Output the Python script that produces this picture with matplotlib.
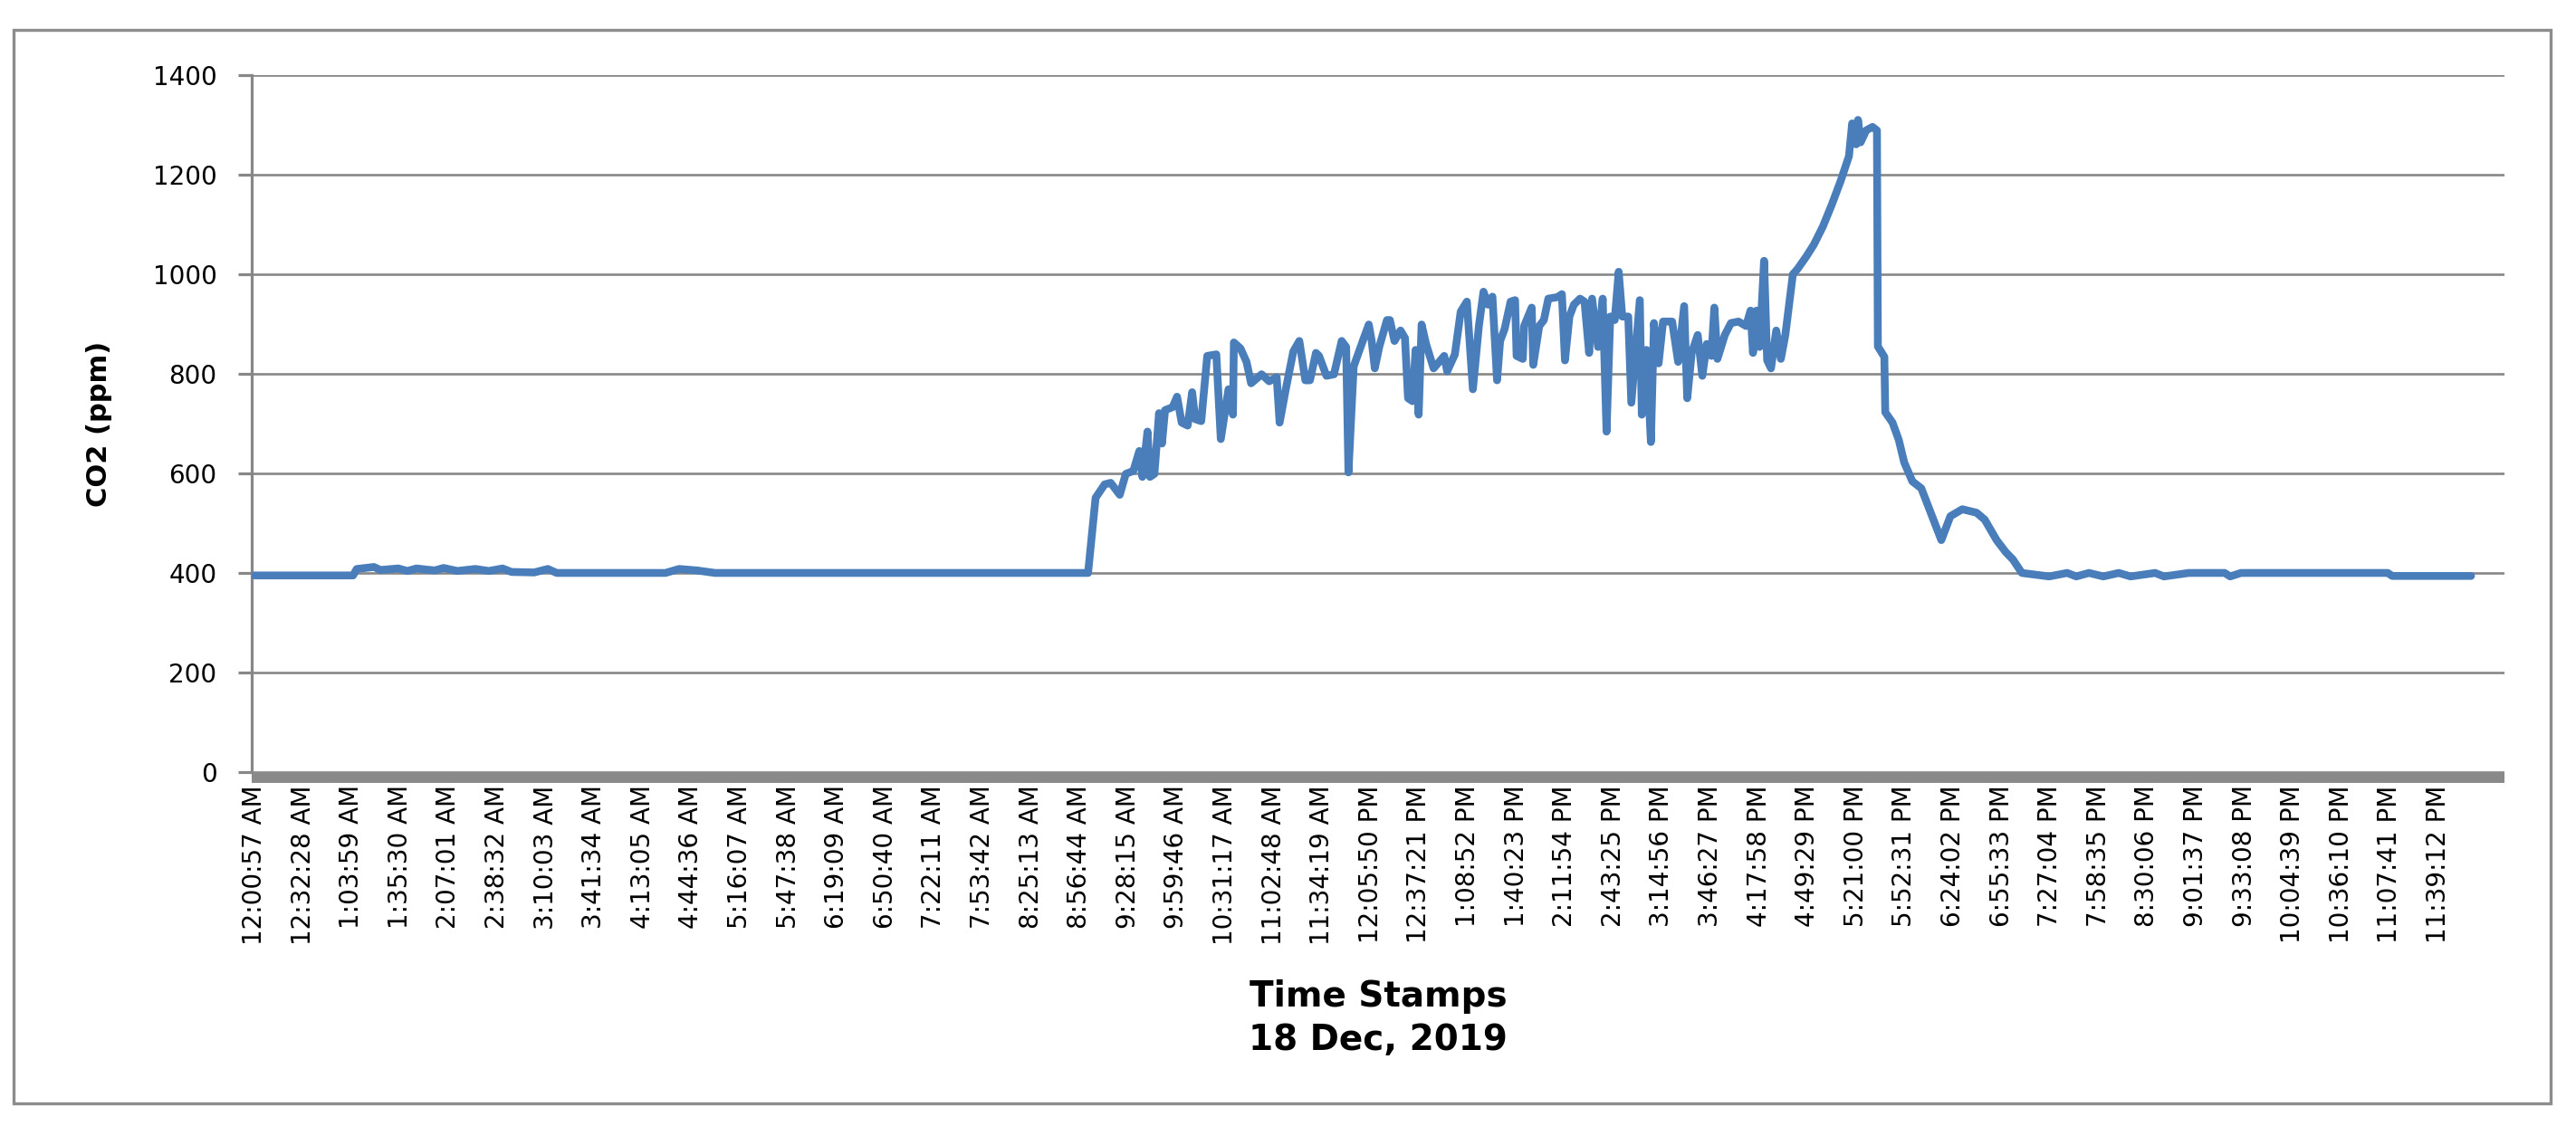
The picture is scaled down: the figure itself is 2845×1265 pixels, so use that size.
import matplotlib
matplotlib.use("Agg")
import matplotlib.pyplot as plt
from matplotlib.patches import Rectangle

# ---------------- data ----------------
time_labels = [
    "12:00:57 AM", "12:32:28 AM", "1:03:59 AM", "1:35:30 AM", "2:07:01 AM",
    "2:38:32 AM", "3:10:03 AM", "3:41:34 AM", "4:13:05 AM", "4:44:36 AM",
    "5:16:07 AM", "5:47:38 AM", "6:19:09 AM", "6:50:40 AM", "7:22:11 AM",
    "7:53:42 AM", "8:25:13 AM", "8:56:44 AM", "9:28:15 AM", "9:59:46 AM",
    "10:31:17 AM", "11:02:48 AM", "11:34:19 AM", "12:05:50 PM", "12:37:21 PM",
    "1:08:52 PM", "1:40:23 PM", "2:11:54 PM", "2:43:25 PM", "3:14:56 PM",
    "3:46:27 PM", "4:17:58 PM", "4:49:29 PM", "5:21:00 PM", "5:52:31 PM",
    "6:24:02 PM", "6:55:33 PM", "7:27:04 PM", "7:58:35 PM", "8:30:06 PM",
    "9:01:37 PM", "9:33:08 PM", "10:04:39 PM", "10:36:10 PM", "11:07:41 PM",
    "11:39:12 PM",
]

# minutes after midnight (18 Dec 2019)
minutes = [
    0.95, 65.0, 67.4, 78.6, 82.7, 94.4, 100.3, 106.2, 118.0, 123.8, 132.7,
    144.4, 153.2, 162.1, 167.9, 182.6, 191.5, 197.3, 267.9, 276.7, 288.5,
    300.2, 542.3,
    547.2, 553.1, 557.0, 562.9, 566.8, 571.7, 575.6, 577.6, 580.9, 582.5,
    585.4, 588.4, 590.3, 592.3, 597.2, 600.1, 603.1, 607.0, 609.9, 611.9,
    615.8, 619.7, 625.6, 628.5, 633.5, 636.4, 637.0, 641.3, 645.2, 648.2,
    655.0, 659.9, 664.8, 666.7, 670.7, 675.6, 679.5, 683.4, 686.4, 690.3,
    692.3, 697.1, 702.0, 707.0, 709.9, 711.4, 714.8, 720.7, 724.6, 726.5,
    728.5, 731.4, 736.4, 738.3, 741.3, 745.2, 748.1, 750.1, 753.0, 755.0,
    757.0, 758.9, 761.8, 766.7, 773.6, 775.5, 780.5, 784.3, 788.3, 792.2,
    796.1, 799.1, 802.0, 804.9,
    807.9, 809.9, 812.8, 816.7, 819.6, 820.6, 824.6, 825.5, 830.4, 831.4,
    835.3, 838.3, 841.2, 847.1, 850.0, 852.0, 854.9, 857.8, 861.8, 864.7,
    867.7, 869.6, 873.5, 876.5, 879.0, 881.4, 884.3, 886.9, 889.2, 893.1,
    895.1, 898.1, 900.6, 901.9, 904.9, 907.8, 909.8, 912.8, 915.7, 921.6,
    925.5, 929.4, 931.4, 934.3, 938.2, 941.2, 944.1, 947.1, 949.0, 951.0,
    955.8, 959.8, 964.7, 969.6, 972.5, 974.1, 976.4, 978.4, 981.3, 983.3,
    985.8, 989.2, 992.2, 995.1, 1000.0, 1002.9, 1008.8, 1013.7, 1019.5,
    1025.3, 1031.1, 1036.4, 1038.5, 1041.1, 1042.3, 1044.0, 1047.6, 1051.7,
    1054.6, 1055.2, 1059.4, 1060.0, 1064.7, 1068.8, 1072.3, 1077.6, 1083.4,
    1096.4, 1102.3, 1110.0, 1119.3, 1124.6, 1132.3, 1138.2, 1142.9, 1148.7,
    1166.4, 1178.1, 1184.0, 1192.3, 1201.6, 1211.6, 1219.3, 1235.2, 1241.0,
    1257.0, 1280.4, 1284.0, 1291.0, 1386.3, 1389.2, 1440.4,
]

co2_ppm = [
    395, 395, 408, 412, 406, 409, 404, 409, 405, 410, 404,
    408, 404, 409, 402, 401, 408, 400, 400, 408, 405,
    400, 400,
    551, 578, 581, 557, 599, 605, 645, 593, 684, 593,
    599, 721, 660, 727, 733, 754, 702, 696, 763, 709,
    705, 836, 839, 669, 769, 718, 863, 851, 824, 781,
    799, 785, 793, 702, 769, 845, 866, 787, 787, 842,
    836, 796, 799, 866, 854, 602, 815, 866, 899, 866,
    811, 854, 908, 908, 866, 887, 872, 751, 745, 848,
    718, 899, 860, 811, 836, 805, 839, 925, 945, 769,
    896, 965, 939, 955,
    787, 866, 890, 945, 948, 836, 830, 896, 933, 818,
    896, 908, 951, 954, 960, 827, 915, 939, 951, 945,
    842, 951, 854, 951, 684, 915, 908, 1005, 915, 915,
    742, 854, 948, 718, 848, 663, 902, 821, 905, 905,
    824, 936, 751, 842, 878, 796, 860, 836, 933, 830,
    878, 902, 905, 896, 927, 842, 927, 854, 1027, 827,
    811, 887, 830, 878, 1000, 1010, 1036, 1060, 1096,
    1140, 1188, 1237, 1303, 1261, 1310, 1265, 1289, 1296,
    1289, 855, 834, 723, 702, 667, 622, 584, 570,
    466, 514, 528, 521, 507, 466, 442, 427, 400,
    393, 400, 393, 400, 393, 400, 393, 400, 393,
    400, 400, 393, 400, 400, 394, 394,
]

y_ticks = [0, 200, 400, 600, 800, 1000, 1200, 1400]
y_label = "CO2 (ppm)"
x_label = "Time Stamps\n18 Dec, 2019"


def to_minutes(label):
    clock, ampm = label.split()
    h, m, s = (int(p) for p in clock.split(":"))
    h = h % 12 + (12 if ampm == "PM" else 0)
    return h * 60 + m + s / 60.0


tick_pos = [to_minutes(t) for t in time_labels]

# ---------------- figure ----------------
W, H, DPI = 2845, 1265, 100
fig = plt.figure(figsize=(W / DPI, H / DPI), dpi=DPI)
fig.patch.set_facecolor("white")

ax = fig.add_axes([278 / W, 1 - 853 / H, (2766 - 278) / W, (853 - 83) / H])

gray = "#878787"
ax.plot(minutes, co2_ppm, color="#4A7EBB", lw=6.2,
        solid_joinstyle="round", solid_capstyle="round", zorder=3)

ax.set_xlim(-0.8, 1462.1)
ax.set_ylim(0, 1400)

ax.set_yticks(y_ticks)
ax.set_yticklabels([str(v) for v in y_ticks])
ax.set_xticks(tick_pos)
ax.set_xticklabels(time_labels)

ax.yaxis.grid(True, color=gray, lw=1.9)
ax.set_axisbelow(True)

for side in ("top", "right"):
    ax.spines[side].set_visible(False)
ax.spines["left"].set_color(gray)
ax.spines["left"].set_linewidth(2.3)
ax.spines["bottom"].set_color("#898989")
ax.spines["bottom"].set_linewidth(8.6)
ax.spines["bottom"].set_position(("outward", 4.3))
ax.spines["bottom"].set_capstyle("butt")

ax.tick_params(axis="y", direction="out", length=10.8, width=2.3,
               color=gray, pad=17, labelsize=20, labelcolor="black")
ax.tick_params(axis="x", length=0, pad=6, labelsize=20, labelcolor="black",
               labelrotation=90)
for lbl in ax.get_xticklabels():
    lbl.set_rotation(90)
    lbl.set_ha("center")
    lbl.set_va("top")

ax.set_ylabel(y_label, fontsize=22, fontweight="bold", rotation=90,
              rotation_mode="default", ha="center", va="center")
ax.yaxis.set_label_coords((110 - 278) / (2766 - 278), 0.5)

ax.set_xlabel(x_label, fontsize=28, fontweight="bold", linespacing=1.3,
              ha="center", va="center")
ax.xaxis.set_label_coords(0.5, -(1125 - 853) / (853 - 83))

# outer chart border
fig.patches.append(Rectangle((15 / W, 1 - 1219 / H), (2817 - 15) / W,
                             (1219 - 33) / H, transform=fig.transFigure,
                             fill=False, edgecolor="#8c8c8c", lw=2.4))

fig.savefig("out.png", dpi=DPI, facecolor="white")
